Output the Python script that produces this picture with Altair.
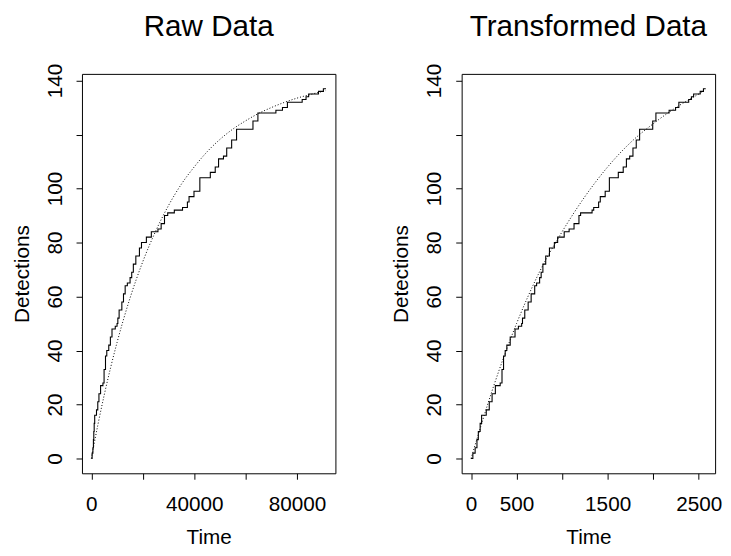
import altair as alt
import pandas as pd

FONT = "Liberation Sans"

# ---- step function (detections after each jump) ----
step_count = [0, 2, 4, 7, 10, 13, 16, 18, 21, 24, 27, 28, 33, 38, 40, 42, 45, 48, 49, 50,
              52, 55, 58, 61, 64, 65, 67, 69, 72, 75, 78, 80, 82, 84, 85, 87, 90, 91, 92, 93,
              95, 97, 99, 104, 106, 108, 111, 112, 115, 118, 122, 125, 128, 129, 130, 132, 133,
              134, 135, 136, 137, 137]
step_raw_time = [0, 300, 600, 800, 950, 1100, 1300, 2000, 2500, 2950, 3590, 4500, 4950, 5500,
                 6000, 6770, 7400, 8030, 9300, 10000, 10300, 10800, 11860, 12500, 13150, 14000,
                 15060, 15700, 16330, 17300, 18700, 19500, 21400, 23330, 25900, 27150, 28450,
                 29700, 32270, 35460, 37360, 38000, 39920, 42200, 46270, 48180, 49480, 51390,
                 52650, 54570, 56480, 62860, 64780, 71780, 74340, 76260, 82000, 83500, 84520,
                 88350, 90250, 91280]
step_trans_time = [0, 20, 45, 65, 80, 100, 116, 167, 200, 231, 267, 320, 340, 357, 375, 393,
                   430, 483, 520, 556, 565, 590, 627, 660, 699, 720, 753, 770, 789, 820, 861,
                   915, 951, 1023, 1077, 1131, 1185, 1203, 1329, 1347, 1401, 1419, 1473, 1519,
                   1617, 1671, 1706, 1742, 1778, 1814, 1851, 1995, 2030, 2175, 2246, 2282, 2390,
                   2420, 2444, 2516, 2552, 2577]

# ---- dotted fitted curves ----
fit_raw_time = [0, 2500, 5000, 7500, 10000, 15000, 20000, 25000, 30000, 35000, 40000, 45000,
                50000, 55000, 60000, 65000, 70000, 75000, 80000, 85000, 91280]
fit_raw_count = [0, 12.3, 23.5, 33.7, 43, 59.3, 72.9, 84.2, 93.7, 101.6, 108, 113.6, 118.2,
                 122, 125.1, 127.8, 130, 131.9, 133.5, 134.8, 136.3]
fit_trans_time = [0, 250, 500, 750, 1000, 1250, 1500, 1750, 2000, 2250, 2500, 2577]
fit_trans_count = [0, 27, 50, 69, 84, 97, 108, 117, 124, 130, 135, 136.5]

# ---- axes ----
y_ticks = [0, 20, 40, 60, 80, 100, 120, 140]
y_labels_shown = [0, 20, 40, 60, 80, 100, 140]
raw_x_ticks = [0, 20000, 40000, 60000, 80000]
raw_x_labels_shown = [0, 40000, 80000]
trans_x_ticks = [0, 500, 1000, 1500, 2000, 2500]
trans_x_labels_shown = [0, 500, 1500, 2500]

W, H = 257, 405


def shown_expr(vals):
    return "indexof([" + ",".join(str(v) for v in vals) + "], datum.value) >= 0 ? datum.label : ''"


def rdomain(vals):
    lo, hi = min(vals), max(vals)
    pad = 0.04 * (hi - lo)
    return [lo - pad, hi + pad]


ydom = rdomain(step_count)


def panel(title, st, fx, fy, xticks, xshown):
    step_df = pd.DataFrame({"t": st, "n": step_count})
    fit_df = pd.DataFrame({"t": fx, "n": fy})
    xs = alt.Scale(domain=rdomain(st), nice=False, zero=False)
    ys = alt.Scale(domain=ydom, nice=False, zero=False)
    xaxis = alt.Axis(values=xticks, format="d", labelExpr=shown_expr(xshown), title="Time",
                     grid=False, domain=False, tickSize=6, tickColor="black", tickWidth=1,
                     labelFont=FONT, labelFontSize=21, labelColor="black",
                     labelBaseline="top", labelAlign="center", labelPadding=15,
                     labelFlush=False, labelOverlap=False,
                     titleFont=FONT, titleFontSize=21, titleFontWeight="normal",
                     titleColor="black", titleBaseline="alphabetic", titleY=71.5,
                     titleX=W / 2)
    yaxis = alt.Axis(values=y_ticks, format="d", labelExpr=shown_expr(y_labels_shown),
                     title="Detections", grid=False, domain=False, tickSize=6,
                     tickColor="black", tickWidth=1,
                     labelFont=FONT, labelFontSize=21, labelColor="black", labelAngle=270,
                     labelAlign="center", labelBaseline="alphabetic", labelPadding=15,
                     labelFlush=False, labelOverlap=False,
                     titleFont=FONT, titleFontSize=21, titleFontWeight="normal",
                     titleColor="black", titleAngle=270, titleAlign="center",
                     titleBaseline="alphabetic", titleX=-54.4, titleY=H / 2)
    step = alt.Chart(step_df).mark_line(interpolate="step-after", color="black",
                                        strokeWidth=1.1).encode(
        x=alt.X("t:Q", scale=xs, axis=xaxis),
        y=alt.Y("n:Q", scale=ys, axis=yaxis),
    )
    fit = alt.Chart(fit_df).mark_line(interpolate="monotone", color="black", strokeWidth=1,
                                      strokeDash=[1, 2]).encode(
        x=alt.X("t:Q", scale=xs),
        y=alt.Y("n:Q", scale=ys),
    )
    return alt.layer(step, fit).properties(
        width=W, height=H,
        title=alt.TitleParams(text=title, font=FONT, fontSize=30, fontWeight="normal",
                              color="black", anchor="middle", frame="group",
                              baseline="alphabetic", offset=-2.5),
    )


left = panel("Raw Data", step_raw_time, fit_raw_time, fit_raw_count, raw_x_ticks,
             raw_x_labels_shown)
right = panel("Transformed Data", step_trans_time, fit_trans_time, fit_trans_count,
              trans_x_ticks, trans_x_labels_shown)

chart = alt.hconcat(left, right, spacing=55).properties(
    padding={"left": 3, "top": 0, "right": 0, "bottom": 0},
    background="white",
).configure_view(stroke="black", strokeWidth=1)

chart.save("out.html", embed_options={"renderer": "svg", "actions": False})
